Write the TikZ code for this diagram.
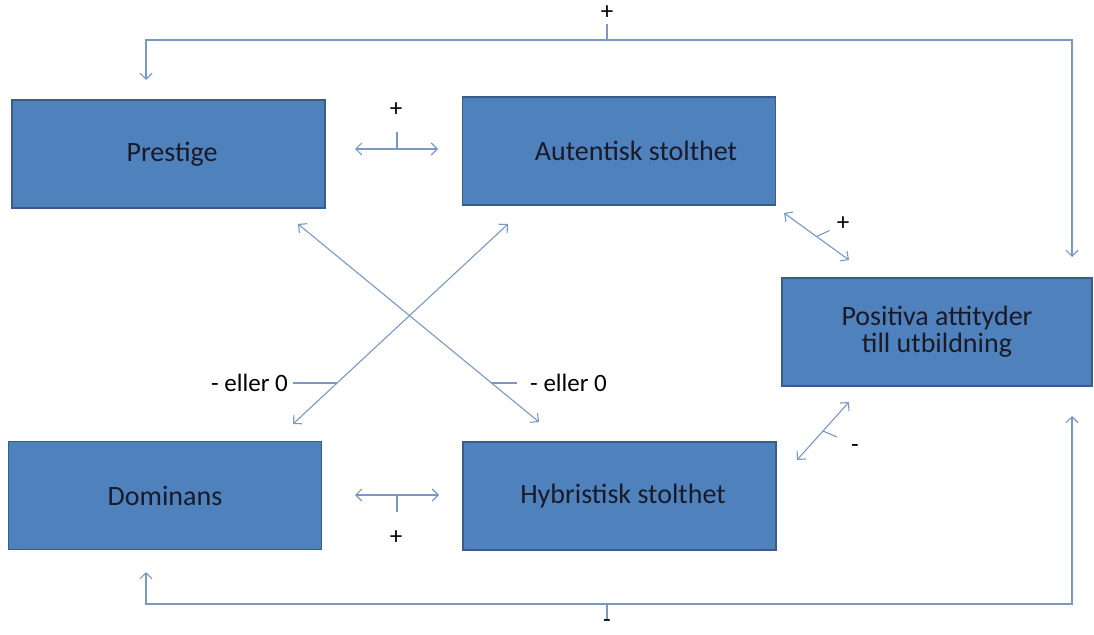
\documentclass[tikz,border=0pt]{standalone}
\usepackage{fontspec}
\setmainfont{Carlito}
\usetikzlibrary{arrows.meta,calc}
\definecolor{boxfill}{HTML}{4F81BD}
\definecolor{boxline}{HTML}{385D8A}
\definecolor{conn}{HTML}{7A98C4}
\definecolor{txt}{HTML}{1A1A28}
\begin{document}
\begin{tikzpicture}[x=1pt,y=-1pt,
  box/.style={draw=boxline,line width=1.5pt,fill=boxfill,text=txt,font=\fontsize{28}{27}\selectfont,align=center,minimum width=313pt,minimum height=108pt,inner sep=0pt},
  conline/.style={draw=conn,line width=1.1pt},
  dbl/.style={conline,{Straight Barb[length=6pt,width=12pt]}-{Straight Barb[length=6pt,width=12pt]}},
  lab/.style={text=black,font=\fontsize{25}{27}\selectfont,inner sep=0pt}]
\useasboundingbox (0,0) rectangle (1094,634);
% boxes
\node[box] (pres) at (168.5,154) {\hspace*{7pt}Prestige};
\node[box] (aut) at (619,151) {\hspace*{34pt}Autentisk stolthet};
\node[box,minimum width=310pt] (pos) at (937,332) {Positiva attityder\\till utbildning};
\node[box] (dom) at (165,495.5) {Dominans};
\node[box] (hyb) at (619.5,496) {\hspace*{7pt}Hybristisk stolthet};
% named ends
\coordinate (pa1) at (355,149); \coordinate (pa2) at (438,149);
\coordinate (dh1) at (355,495); \coordinate (dh2) at (439,495);
\coordinate (ap1) at (784,213); \coordinate (ap2) at (849,260);
\coordinate (hp1) at (797,460); \coordinate (hp2) at (849,402);
\coordinate (d1a) at (298,224); \coordinate (d1b) at (539,422);
\coordinate (d2a) at (508,224); \coordinate (d2b) at (293,424);
\coordinate (tl) at (146,80); \coordinate (tr) at (1072,257);
\coordinate (bl) at (146,572); \coordinate (br) at (1072,416);
% connectors
\draw[dbl] (pa1) -- (pa2);
\draw[conline] (397,149) -- (397,132);
\node[lab] (l1) at (396,110) {+};
\draw[dbl] (dh1) -- (dh2);
\draw[conline] (397,495) -- (397,512);
\node[lab] (l2) at (396,538) {+};
\draw[dbl] (ap1) -- (ap2);
\draw[conline] ($(ap1)!0.5!(ap2)$) -- ++(13,-6);
\node[lab] (l3) at (843,224) {+};
\draw[dbl] (hp1) -- (hp2);
\draw[conline] ($(hp1)!0.5!(hp2)$) -- ++(14,6);
\node[lab] (l4) at (855,449) {-};
\draw[dbl] (d1a) -- (d1b);
\draw[dbl] (d2a) -- (d2b);
\draw[conline] (491,383) -- (517,383);
\node[lab,anchor=west] (l5) at (530,383) {- eller 0};
\draw[conline] (293,383) -- (337,383);
\node[lab,anchor=east] (l6) at (288,383) {- eller 0};
% loops
\draw[dbl] (tr) -- (1072,40) -- (146,40) -- (tl);
\draw[conline] (607,40) -- (607,24);
\node[lab] (l7) at (607,13) {+};
\draw[dbl] (br) -- (1072,604) -- (146,604) -- (bl);
\draw[conline] (607,604) -- (607,620);
\node[lab] (l8) at (607,624) {-};
\end{tikzpicture}
\end{document}
